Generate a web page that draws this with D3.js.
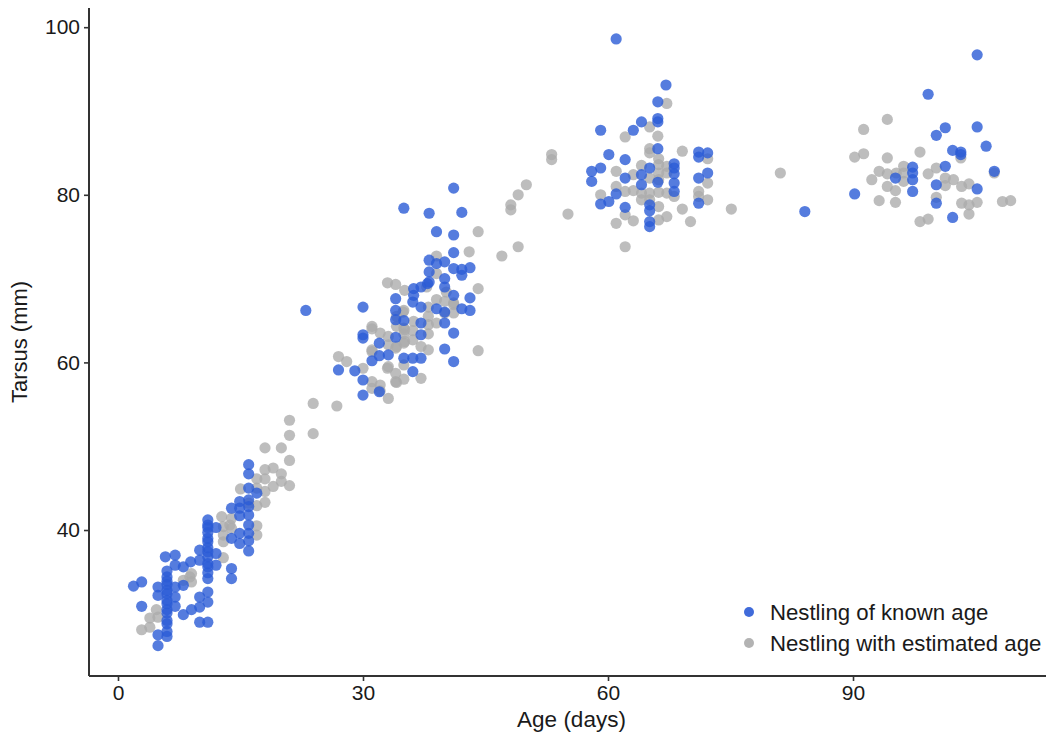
<!DOCTYPE html>
<html>
<head>
<meta charset="utf-8">
<script src="https://cdn.jsdelivr.net/npm/d3@7"></script>
<style>
  html, body { margin: 0; padding: 0; background: #ffffff; }
  svg { display: block; font-family: "Liberation Sans", Arial, Helvetica, sans-serif; }
</style>
</head>
<body>
<svg id="chart" width="1046" height="733"></svg>
<script>
// Tarsus length against age for nestlings: [age (days), tarsus (mm)]
const knownAge = [
  [1.9,33.3],[2.9,33.8],[2.9,30.9],[4.9,26.2],[4.9,27.5],[4.9,33.2],[4.9,32.2],
  [6.0,27.3],[6.0,27.9],[6.0,28.8],[6.0,29.2],[6.0,30.1],[6.0,30.5],[6.0,31.2],
  [6.0,31.6],[6.0,32.4],[6.0,32.8],[6.0,33.5],[6.0,33.9],[6.0,34.4],[6.0,35.1],
  [5.8,36.8],[7.0,37.0],[7.0,35.8],[7.0,33.2],[7.0,32.0],[7.0,30.9],[8.0,29.9],
  [8.0,33.4],[8.0,35.6],[8.9,36.2],[10.0,37.6],[10.0,36.4],[9.0,30.5],[10.0,32.0],
  [10.0,30.8],[11.0,32.6],[11.0,31.4],[10.0,29.0],[11.0,29.0],
  [11.0,34.2],[11.0,34.9],[11.0,35.6],[11.0,36.0],[11.0,36.8],[11.0,37.4],[11.0,37.9],
  [11.0,38.6],[11.0,39.0],[11.0,39.7],[11.0,40.3],[11.0,40.6],[11.0,41.2],
  [12.0,40.3],[12.0,37.2],[12.0,35.8],[13.9,35.4],[13.9,34.2],[13.9,42.6],[13.9,39.0],
  [14.9,39.6],[14.9,38.4],[14.9,43.4],[14.9,41.7],[14.9,42.6],[16.0,37.5],[16.0,38.7],
  [16.0,47.8],[16.0,46.7],[16.0,45.0],[16.0,43.6],[16.0,42.8],[16.0,41.8],[16.0,40.6],
  [16.0,39.6],[17.0,44.4],
  [23.0,66.2],[30.0,66.6],[30.0,63.3],[30.0,62.9],[27.0,59.1],[29.0,59.0],[30.0,57.9],
  [30.0,56.1],[32.0,56.5],[31.1,60.2],[32.0,60.8],[32.0,62.3],[33.1,60.9],[34.0,63.0],
  [34.0,66.2],[34.0,67.6],[35.0,65.0],[35.0,60.5],[36.1,60.5],[37.1,60.5],[36.1,58.9],
  [37.1,64.7],[37.1,63.3],[36.2,68.8],[36.2,68.0],[37.1,69.0],[37.9,69.4],[39.0,66.4],
  [40.0,69.0],[40.0,66.0],[40.0,64.7],[41.1,68.0],[41.1,63.5],[41.1,60.1],[40.0,61.6],
  [42.1,66.4],[43.1,67.7],[43.1,66.2],[41.1,80.8],[35.0,78.4],[38.1,77.8],[42.1,77.9],
  [39.0,75.6],[41.1,75.2],[41.1,73.1],[38.1,72.2],[39.0,71.8],[40.0,72.0],[41.1,71.2],
  [42.1,71.1],[43.1,71.3],[42.1,70.4],[38.1,70.8],[38.1,69.6],[40.0,70.0],[36.1,67.2],
  [37.1,66.6],[34.0,65.1],
  [61.0,98.6],[67.1,93.1],[66.1,91.1],[66.1,89.1],[66.1,88.7],[64.1,88.7],[63.1,87.7],
  [59.1,87.7],[66.1,85.5],[60.1,84.8],[62.1,84.2],[71.1,85.1],[72.2,85.0],[71.1,84.5],
  [58.0,82.8],[59.1,83.2],[58.0,81.6],[65.1,83.2],[68.1,83.7],[68.1,83.2],[68.1,82.5],
  [64.1,82.4],[62.1,82.0],[66.1,81.5],[68.1,81.4],[68.1,80.4],[71.1,82.0],[72.2,82.6],
  [71.1,79.0],[61.0,80.1],[60.1,79.2],[59.1,78.9],[64.1,81.2],[62.1,78.5],[65.1,78.8],
  [65.1,78.1],[65.1,76.8],[65.1,76.2],[84.1,78.0],
  [105.2,96.7],[99.2,92.0],[101.3,88.0],[100.2,87.1],[105.2,88.1],[106.3,85.8],[102.2,85.3],
  [103.2,85.1],[103.2,84.8],[101.3,83.4],[97.3,83.3],[97.3,82.6],[97.3,81.8],[97.3,80.4],
  [95.2,82.0],[100.2,81.2],[107.3,82.8],[105.2,80.7],[90.2,80.1],[100.2,79.0],[102.2,77.3]
];

const estimatedAge = [
  [2.9,28.1],[3.9,28.4],[3.9,29.5],[4.7,30.5],[4.9,29.6],[8.0,34.0],[8.8,34.4],[9.0,34.8],
  [9.0,33.8],[12.7,41.6],[12.9,39.4],[12.9,36.7],[12.9,38.6],[12.9,40.4],[13.7,40.6],
  [13.9,41.4],[13.9,40.2],[15.0,44.9],[16.0,43.2],[17.0,40.5],[17.0,39.4],[17.0,42.9],
  [17.0,46.1],[17.0,45.0],[18.0,49.8],[18.0,47.2],[18.0,46.1],[18.0,44.6],[18.0,43.3],
  [19.0,47.4],[19.0,45.2],[20.0,49.8],[20.0,46.7],[20.0,45.8],[21.0,53.1],[21.0,51.3],
  [21.0,48.3],[21.0,45.3],[23.9,55.1],[23.9,51.5],[26.8,54.8],
  [27.0,60.7],[28.0,60.1],[30.0,59.3],[31.1,57.7],[32.1,57.3],[31.1,56.9],[32.1,56.6],
  [33.1,55.7],[33.0,59.3],[34.0,58.7],[34.0,57.7],[35.0,58.0],[37.1,58.1],[35.0,59.7],
  [32.1,63.5],[33.1,63.1],[33.1,62.1],[31.1,64.3],[31.1,61.3],[34.0,61.7],[35.0,62.3],
  [35.0,63.4],[35.0,64.1],[35.0,66.2],[34.1,61.9],[35.1,62.5],[35.1,63.9],[34.1,64.3],
  [36.2,64.9],[38.0,64.5],[39.0,64.7],[40.0,65.9],[41.1,66.9],[38.0,65.5],[34.9,66.0],
  [34.1,65.5],[39.0,67.5],[37.8,69.0],[40.0,67.3],[33.0,69.5],[34.0,69.3],[35.1,68.6],
  [39.0,72.7],[39.0,70.6],[40.2,68.4],[41.1,67.1],[41.1,65.9],[38.0,66.6],[38.0,63.4],
  [38.0,61.5],[33.1,59.5],[31.1,64.0],[31.1,61.5],[34.1,57.6],[44.1,75.6],[43.0,73.2],
  [44.1,68.8],[44.1,61.4],[36.1,62.7],[37.1,61.9],[36.1,63.8],
  [47.0,72.7],[49.0,73.8],[48.1,78.8],[48.1,78.2],[49.0,80.0],[50.0,81.2],[53.1,84.8],
  [53.1,84.2],[55.1,77.7],
  [67.2,90.9],[65.1,88.1],[62.1,86.9],[66.1,87.0],[65.1,85.5],[65.1,85.0],[69.1,85.2],
  [72.2,84.3],[61.0,82.8],[61.0,81.0],[63.1,82.4],[66.2,83.6],[67.2,83.4],[66.2,82.6],
  [67.2,82.6],[66.2,81.8],[72.2,81.4],[71.1,80.4],[71.1,79.8],[72.2,79.4],[62.1,80.4],
  [59.1,80.0],[64.1,80.2],[65.1,80.2],[64.1,79.4],[65.1,79.4],[67.2,80.2],[66.2,78.6],
  [69.1,78.3],[75.1,78.3],[61.0,76.6],[63.1,76.9],[66.2,77.0],[67.2,77.4],[70.1,76.8],
  [62.1,77.6],[62.1,73.8],[65.1,82.0],[64.1,83.5],[66.2,84.3],[63.1,80.5],[66.2,80.3],
  [68.1,79.8],[81.1,82.6],
  [94.2,89.0],[91.3,87.8],[90.2,84.5],[91.3,84.9],[94.2,84.4],[98.2,85.1],[93.2,82.8],
  [94.2,82.5],[92.3,81.8],[95.3,82.6],[96.2,83.4],[96.2,82.6],[96.2,81.6],[94.2,81.0],
  [95.2,80.5],[93.2,79.3],[95.2,79.1],[99.2,82.5],[100.2,83.2],[101.3,82.0],[102.3,81.8],
  [101.3,81.1],[103.3,81.0],[104.2,81.3],[100.2,79.7],[103.3,79.0],[104.2,78.8],[105.2,79.1],
  [104.2,77.7],[98.2,76.8],[99.2,77.1],[108.3,79.2],[109.3,79.3],[103.2,84.4],[107.3,82.6]
];

const xTicks = [0, 30, 60, 90];
const yTicks = [40, 60, 80, 100];
const legendLabels = ["Nestling of known age", "Nestling with estimated age"];
const seriesColors = ["#2b5bd6", "#ababab"];

const svg = d3.select("#chart");
const panel = { left: 89, right: 1046, top: 8, bottom: 676 };

const x = d3.scaleLinear().domain([-3.55, 113.63]).range([panel.left, panel.right]);
const y = d3.scaleLinear().domain([22.58, 102.29]).range([panel.bottom, panel.top]);

const axisColor = "#333333";
const textColor = "#1a1a1a";

// axes
const xAxis = svg.append("g")
  .attr("transform", `translate(0,${panel.bottom})`)
  .call(d3.axisBottom(x).tickValues(xTicks).tickSize(5).tickPadding(4).tickSizeOuter(0));
const yAxis = svg.append("g")
  .attr("transform", `translate(${panel.left},0)`)
  .call(d3.axisLeft(y).tickValues(yTicks).tickSize(5).tickPadding(4).tickSizeOuter(0));

[xAxis, yAxis].forEach(g => {
  g.select(".domain").attr("stroke", axisColor).attr("stroke-width", 2);
  g.selectAll(".tick line").attr("stroke", axisColor).attr("stroke-width", 1.6);
  g.selectAll(".tick text")
    .attr("fill", textColor)
    .style("font-size", "21px")
    .style("font-family", "'Liberation Sans', Arial, sans-serif");
});
// extend the axis lines across the full panel extent
xAxis.select(".domain").attr("d", `M${panel.left},0H${panel.right}`);
yAxis.select(".domain").attr("d", `M0,${panel.bottom}V${panel.top}`);

// points: estimated-age nestlings underneath, known-age on top
const plots = svg.append("g");
plots.selectAll("circle.est")
  .data(estimatedAge)
  .join("circle")
  .attr("class", "est")
  .attr("cx", d => x(d[0]))
  .attr("cy", d => y(d[1]))
  .attr("r", 5.6)
  .attr("fill", seriesColors[1])
  .attr("fill-opacity", 0.78);

plots.selectAll("circle.known")
  .data(knownAge)
  .join("circle")
  .attr("class", "known")
  .attr("cx", d => x(d[0]))
  .attr("cy", d => y(d[1]))
  .attr("r", 5.6)
  .attr("fill", seriesColors[0])
  .attr("fill-opacity", 0.8);

// axis titles
svg.append("text")
  .attr("x", (panel.left + panel.right) / 2 + 4)
  .attr("y", 727)
  .attr("text-anchor", "middle")
  .attr("fill", textColor)
  .style("font-size", "22.5px")
  .text("Age (days)");

svg.append("text")
  .attr("transform", `translate(27,${(panel.top + panel.bottom) / 2}) rotate(-90)`)
  .attr("text-anchor", "middle")
  .attr("fill", textColor)
  .style("font-size", "22px")
  .text("Tarsus (mm)");

// legend
const legend = svg.append("g").attr("transform", "translate(749,612)");
legendLabels.forEach((label, i) => {
  const row = legend.append("g").attr("transform", `translate(0,${i * 31})`);
  row.append("circle").attr("r", 5).attr("fill", seriesColors[i]).attr("fill-opacity", 0.9);
  row.append("text")
    .attr("x", 21)
    .attr("dy", "0.35em")
    .attr("fill", textColor)
    .style("font-size", "22.2px")
    .text(label);
});
</script>
</body>
</html>
